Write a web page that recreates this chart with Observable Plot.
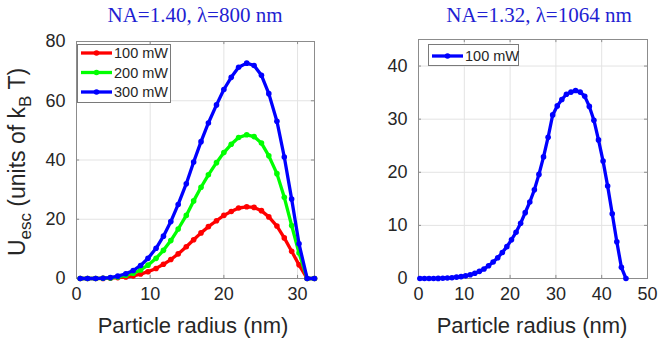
<!DOCTYPE html>
<html><head><meta charset="utf-8">
<script src="https://cdn.jsdelivr.net/npm/d3@7"></script>
<script src="https://cdn.jsdelivr.net/npm/@observablehq/plot@0.6"></script>
<style>
body{margin:0;background:#fff;}
#wrap{position:relative;width:659px;height:346px;overflow:hidden;background:#fff;}
.panel{position:absolute;top:0;}
#overlay{position:absolute;left:0;top:0;pointer-events:none;}
</style></head>
<body><div id="wrap"></div>
<script>
// ---- data ----
const leftSeries = ["100 mW", "200 mW", "300 mW"];
const leftColors = ["#ff0000", "#00ff00", "#0000ff"];
const leftRadius = [0.5,1.5,2.6,3.6,4.6,5.6,6.7,7.7,8.7,9.7,10.8,11.8,12.8,13.8,14.9,15.9,16.9,17.9,19.0,20.0,21.0,22.0,23.1,24.1,25.1,26.1,27.2,28.2,29.2,30.2,31.3,32.3];
const u100 = [0,0,0,0.03,0.1,0.3,0.5,0.9,1.5,2.3,3.4,4.8,6.4,8.3,10.7,13.1,15.4,17.5,19.5,21.3,22.6,23.8,24.2,24.0,22.9,20.8,17.7,13.7,9.2,4.6,0,0];
const u200 = [0,0,0,0.07,0.2,0.5,1.1,1.8,2.9,4.5,6.8,9.5,12.8,16.7,21.3,26.2,30.8,35.0,39.1,42.5,45.3,47.6,48.5,47.9,45.7,41.4,35.4,27.4,17.9,8.6,0,0];
const u300 = [0,0,0,0.1,0.3,0.8,1.6,2.7,4.4,6.8,10.2,14.3,19.2,25.0,32.0,39.3,46.2,52.5,58.6,63.8,67.9,71.3,72.7,71.9,68.6,62.4,53.1,41.0,26.8,11.7,0,0];

const rightSeries = ["100 mW"];
const rightColors = ["#0000ff"];
const rightRadius = [0.3,1.3,2.3,3.3,4.3,5.3,6.3,7.3,8.3,9.3,10.3,11.3,12.3,13.3,14.3,15.3,16.3,17.3,18.3,19.3,20.3,21.3,22.3,23.3,24.3,25.3,26.3,27.3,28.3,29.3,30.3,31.3,32.3,33.3,34.3,35.3,36.3,37.3,38.3,39.3,40.3,41.3,42.3,43.3,44.3,45.3];
const uRight = [0,0,0,0,0.02,0.05,0.1,0.15,0.25,0.35,0.5,0.7,1.0,1.35,1.8,2.4,3.1,3.9,4.9,6.0,7.3,8.7,10.4,12.4,14.4,16.7,19.6,22.9,26.6,30.8,32.5,33.7,34.7,35.1,35.4,35.1,34.3,32.4,29.8,26.1,22.1,17.4,12.2,6.9,2.1,0];

const leftXTicks = [0,10,20,30];
const leftYTicks = [0,20,40,60,80];
const rightXTicks = [0,10,20,30,40,50];
const rightYTicks = [0,10,20,30,40];

const leftTitle = "NA=1.40, λ=800 nm";
const rightTitle = "NA=1.32, λ=1064 nm";
const xLabel = "Particle radius (nm)";

// ---- helpers ----
const FONT = "'Liberation Sans', Arial, Helvetica, sans-serif";
const AXC = "#262626";
const FRAME = "#8c8c8c";
const GRID = "#e3e3e3";

function panel({width, ml, mr, mt, mb, xDomain, yDomain, xTicks, yTicks, series, colors, radius, values}) {
  const data = series.map((s, i) => radius.map((r, j) => ({r, u: values[i][j], s})));
  const tx = (xDomain[1]-xDomain[0]) * 0.013;
  const ty = (yDomain[1]-yDomain[0]) * 0.013;
  const marks = [
    Plot.gridX(xTicks, {stroke: GRID, strokeOpacity: 1}),
    Plot.gridY(yTicks, {stroke: GRID, strokeOpacity: 1}),
    Plot.ruleX(xTicks, {x: d => d, y1: yDomain[0], y2: yDomain[0] + ty, stroke: FRAME}),
    Plot.ruleX(xTicks, {x: d => d, y1: yDomain[1] - ty, y2: yDomain[1], stroke: FRAME}),
    Plot.ruleY(yTicks, {y: d => d, x1: xDomain[0], x2: xDomain[0] + tx, stroke: FRAME}),
    Plot.ruleY(yTicks, {y: d => d, x1: xDomain[1] - tx, x2: xDomain[1], stroke: FRAME}),
    Plot.frame({stroke: FRAME}),
    Plot.axisX(xTicks, {tickSize: 0, tickPadding: 9, label: null, fontSize: 18, fill: AXC, fontFamily: FONT}),
    Plot.axisY(yTicks, {tickSize: 0, tickPadding: 11, label: null, fontSize: 18, fill: AXC, fontFamily: FONT})
  ];
  data.forEach(d => {
    marks.push(Plot.line(d, {x: "r", y: "u", stroke: "s", strokeWidth: 3.3}));
    marks.push(Plot.dot(d, {x: "r", y: "u", fill: "s", r: 2.8}));
  });
  return Plot.plot({
    width, height: 346,
    marginLeft: ml, marginRight: mr, marginTop: mt, marginBottom: mb,
    style: {fontFamily: FONT, background: "transparent", overflow: "visible"},
    x: {domain: xDomain},
    y: {domain: yDomain},
    color: {domain: series, range: colors},
    marks
  });
}

const wrap = document.getElementById("wrap");

const left = panel({width: 330, ml: 76, mr: 16, mt: 41, mb: 68,
  xDomain: [0, 32.3], yDomain: [0, 80], xTicks: leftXTicks, yTicks: leftYTicks,
  series: leftSeries, colors: leftColors, radius: leftRadius, values: [u100, u200, u300]});
left.classList.add("panel"); left.style.left = "0px";
wrap.appendChild(left);

const right = panel({width: 329, ml: 88, mr: 12, mt: 39, mb: 68,
  xDomain: [0, 50], yDomain: [0, 45], xTicks: rightXTicks, yTicks: rightYTicks,
  series: rightSeries, colors: rightColors, radius: rightRadius, values: [uRight]});
right.classList.add("panel"); right.style.left = "330px";
wrap.appendChild(right);

// ---- overlay: titles, labels, legends ----
const svg = d3.select(wrap).append("svg").attr("id", "overlay")
  .attr("width", 659).attr("height", 346);

const titleColor = "#1f1fd2";
svg.append("text").attr("x", 195).attr("y", 22).attr("text-anchor", "middle")
  .attr("font-family", "'Liberation Serif', 'Times New Roman', serif").attr("font-size", 21)
  .attr("fill", titleColor).text(leftTitle);
svg.append("text").attr("x", 539).attr("y", 22).attr("text-anchor", "middle")
  .attr("font-family", "'Liberation Serif', 'Times New Roman', serif").attr("font-size", 21)
  .attr("fill", titleColor).text(rightTitle);

svg.append("text").attr("x", 193).attr("y", 333).attr("text-anchor", "middle")
  .attr("font-family", FONT).attr("font-size", 22).attr("fill", AXC).text(xLabel);
svg.append("text").attr("x", 532).attr("y", 333).attr("text-anchor", "middle")
  .attr("font-family", FONT).attr("font-size", 22).attr("fill", AXC).text(xLabel);

const yl = svg.append("text").attr("transform", "translate(25,162) rotate(-90)")
  .attr("text-anchor", "middle").attr("font-family", FONT).attr("font-size", 23).attr("fill", AXC);
yl.append("tspan").text("U");
yl.append("tspan").attr("dy", 6).attr("font-size", 17).text("esc");
yl.append("tspan").attr("dy", -6).text(" (units of k");
yl.append("tspan").attr("dy", 6).attr("font-size", 17).text("B");
yl.append("tspan").attr("dy", -6).text(" T)");

function legend(x, y, w, h, rowH, firstY, series, colors) {
  const g = svg.append("g");
  g.append("rect").attr("x", x + 0.5).attr("y", y + 0.5).attr("width", w).attr("height", h)
    .attr("fill", "#fff").attr("stroke", "#7a7a7a");
  series.forEach((s, i) => {
    const cy = y + firstY + i * rowH;
    g.append("line").attr("x1", x + 4).attr("x2", x + 35).attr("y1", cy).attr("y2", cy)
      .attr("stroke", colors[i]).attr("stroke-width", 3.3);
    g.append("circle").attr("cx", x + 19.5).attr("cy", cy).attr("r", 2.8).attr("fill", colors[i]);
    g.append("text").attr("x", x + 37).attr("y", cy + 5).attr("font-family", FONT)
      .attr("font-size", 14.5).attr("fill", AXC).text(s);
  });
}
legend(77, 44, 93, 58, 19.5, 9, leftSeries, leftColors);
legend(428, 44, 90, 21, 19.5, 12, rightSeries, rightColors);
</script></body></html>
